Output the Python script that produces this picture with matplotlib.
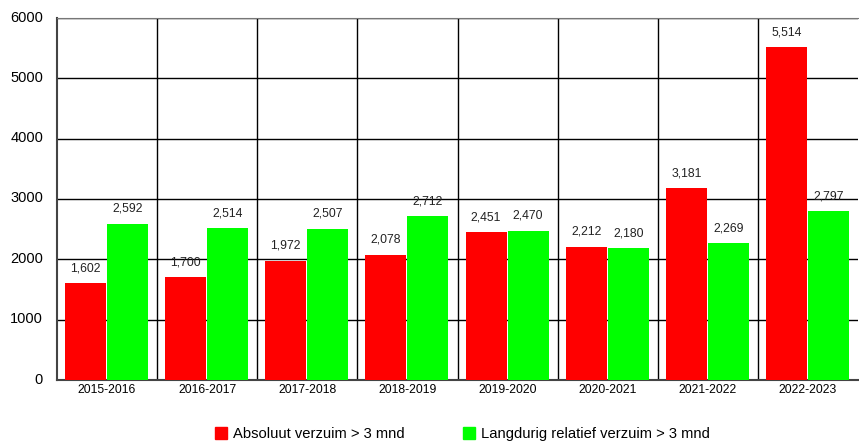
import numpy as np
import matplotlib
matplotlib.use("Agg")
import matplotlib.pyplot as plt
import matplotlib.transforms as mtransforms
from matplotlib.lines import Line2D

plt.rcParams['font.family'] = ['Liberation Sans', 'DejaVu Sans']

# data
seasons = ["2015-2016", "2016-2017", "2017-2018", "2018-2019",
           "2019-2020", "2020-2021", "2021-2022", "2022-2023"]
absoluut = [1602, 1700, 1972, 2078, 2451, 2212, 3181, 5514]
langdurig = [2592, 2514, 2507, 2712, 2470, 2180, 2269, 2797]
series_names = ["Absoluut verzuim > 3 mnd", "Langdurig relatief verzuim > 3 mnd"]

fig = plt.figure(figsize=(8.59, 4.43), dpi=100)
ax = fig.add_axes([57/859, 1 - 380/443, 801/859, 362/443])

x = np.arange(len(seasons))
w = 0.41
b1 = ax.bar(x - 0.215, absoluut, w, color="#ff0000", zorder=3)
b2 = ax.bar(x + 0.205, langdurig, w, color="#00ff00", zorder=3)

for bars, vals in [(b1, absoluut), (b2, langdurig)]:
    for r, v in zip(bars, vals):
        ax.annotate(f"{v:,}", (r.get_x() + r.get_width() / 2, v),
                    xytext=(0, 6.5), textcoords="offset points",
                    ha="center", va="bottom", fontsize=8.8, color="#222222")

ax.set_xlim(-0.5, len(seasons) - 0.5)
ax.set_ylim(0, 6000)
ax.set_yticks(range(0, 6001, 1000))
ax.set_xticks(x)
ax.set_xticklabels(seasons, fontsize=8.8)
ax.tick_params(axis="y", labelsize=10.5, length=0, pad=10)
ax.tick_params(axis="x", length=0, pad=3)
# nudge y labels up a little
shift = mtransforms.ScaledTranslation(0, 2/100, fig.dpi_scale_trans)
for lbl in ax.get_yticklabels():
    lbl.set_transform(lbl.get_transform() + shift)

# grid: horizontal at ticks, vertical between categories
for yv in range(1000, 6001, 1000):
    ax.axhline(yv, color="black", lw=1, zorder=1)
for xv in np.arange(0.5, len(seasons) - 0.5, 1):
    ax.axvline(xv, color="black", lw=1, zorder=1)

for s in ["left", "bottom"]:
    ax.spines[s].set_color("#444444")
    ax.spines[s].set_linewidth(1.5)
ax.spines["top"].set_color("#777777")
ax.spines["right"].set_visible(False)

handles = [Line2D([], [], marker="s", ls="", color="#ff0000", markersize=8),
           Line2D([], [], marker="s", ls="", color="#00ff00", markersize=8)]
fig.legend(handles, series_names, loc="lower center", ncol=2, frameon=False,
           fontsize=10.6, bbox_to_anchor=(0.537, -0.025), columnspacing=3.8,
           handletextpad=0.2, handlelength=1.2)

fig.savefig("out.png", dpi=100)
